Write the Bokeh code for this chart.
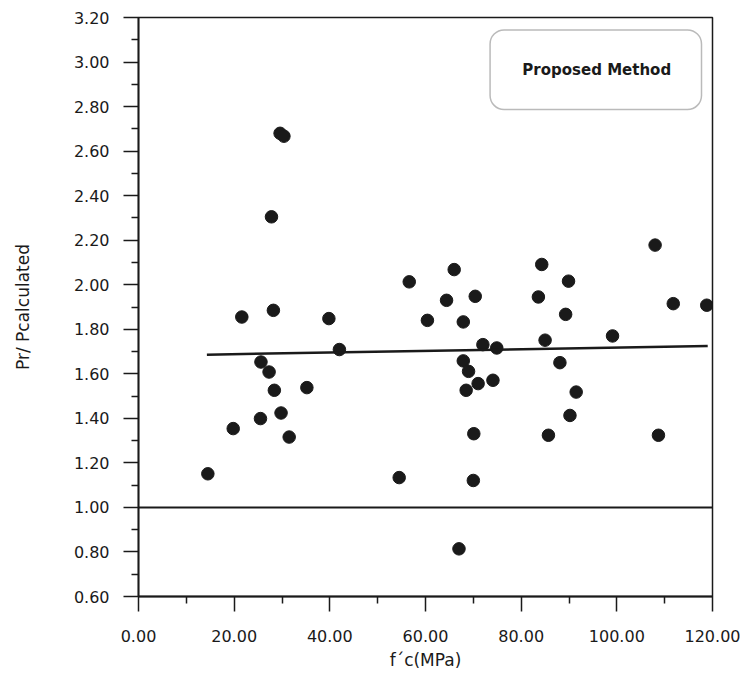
from bokeh.plotting import figure
from bokeh.models import Range1d, FixedTicker, NumeralTickFormatter, Span, BoxAnnotation, Label, ColumnDataSource
from bokeh.embed import file_html
from bokeh.resources import INLINE

# Data
fc = [14.5, 19.8, 21.6, 25.5, 25.6, 27.3, 27.8, 28.2, 28.4, 29.6, 29.8, 30.4, 31.5, 35.2, 39.8,
      42.0, 54.5, 56.6, 60.4, 64.4, 66.0, 67.0, 67.9, 67.9, 68.5, 69.0, 70.0, 70.1, 70.4, 71.0,
      72.0, 74.1, 74.9, 83.6, 84.3, 85.0, 85.7, 88.1, 89.3, 89.9, 90.2, 91.5, 99.1, 108.0, 108.7,
      111.8, 118.8]
ratio = [1.151, 1.354, 1.855, 1.399, 1.653, 1.608, 2.305, 1.885, 1.526, 2.680, 1.424, 2.667, 1.316, 1.538, 1.848,
         1.709, 1.134, 2.013, 1.840, 1.930, 2.068, 0.814, 1.833, 1.658, 1.526, 1.611, 1.121, 1.331, 1.948, 1.556,
         1.731, 1.571, 1.716, 1.945, 2.091, 1.751, 1.324, 1.650, 1.867, 2.016, 1.413, 1.518, 1.770, 2.178, 1.324,
         1.915, 1.908]
fit_x = [14.3, 119.0]
fit_y = [1.686, 1.725]
reference_level = 1.0
x_ticks = [0, 20, 40, 60, 80, 100, 120]
x_minor = [10, 30, 50, 70, 90, 110]
y_ticks = [0.6, 0.8, 1.0, 1.2, 1.4, 1.6, 1.8, 2.0, 2.2, 2.4, 2.6, 2.8, 3.0, 3.2]
y_minor = [0.7, 0.9, 1.1, 1.3, 1.5, 1.7, 1.9, 2.1, 2.3, 2.5, 2.7, 2.9, 3.1]
legend_text = "Proposed Method"

INK = "#1a1a1a"
FONT = "DejaVu Sans"

p = figure(width=746, height=676, output_backend="svg", toolbar_location=None,
           x_range=Range1d(0, 120), y_range=Range1d(0.6, 3.2),
           min_border_left=138, min_border_right=34, min_border_top=17, min_border_bottom=80)
p.grid.visible = False
p.background_fill_color = "white"
p.border_fill_color = "white"
p.outline_line_color = INK
p.outline_line_width = 1.5

p.xaxis.ticker = FixedTicker(ticks=x_ticks, minor_ticks=x_minor)
p.yaxis.ticker = FixedTicker(ticks=y_ticks, minor_ticks=y_minor)
p.xaxis.formatter = NumeralTickFormatter(format="0.00")
p.yaxis.formatter = NumeralTickFormatter(format="0.00")

for ax in (p.xaxis[0], p.yaxis[0]):
    ax.axis_line_color = INK
    ax.axis_line_width = 1.8
    ax.major_tick_line_color = INK
    ax.major_tick_line_width = 1.5
    ax.minor_tick_line_color = INK
    ax.minor_tick_line_width = 1.5
    ax.major_tick_in = 0
    ax.major_tick_out = 15
    ax.minor_tick_in = 0
    ax.minor_tick_out = 7
    ax.major_label_text_font = FONT
    ax.major_label_text_font_size = "16px"
    ax.major_label_text_color = INK
    ax.axis_label_text_font = FONT
    ax.axis_label_text_font_size = "17px"
    ax.axis_label_text_font_style = "normal"
    ax.axis_label_text_color = INK

p.xaxis.major_label_standoff = 18
p.yaxis.major_label_standoff = 14
p.xaxis.axis_label = "f´c(MPa)"
p.yaxis.axis_label = "Pr/ Pcalculated"
p.xaxis.axis_label_standoff = 5
p.yaxis.axis_label_standoff = 38

p.add_layout(Span(location=reference_level, dimension="width", line_color=INK, line_width=2))

src = ColumnDataSource(dict(x=fc, y=ratio))
p.scatter("x", "y", source=src, size=12.5, color=INK)
p.line(fit_x, fit_y, line_color=INK, line_width=2.5)

p.add_layout(BoxAnnotation(left=73.5, right=117.7, bottom=2.787, top=3.144,
                           fill_alpha=0, line_color=INK, line_width=1.5, border_radius=14))
p.add_layout(Label(x=95.8, y=2.964, text=legend_text, text_align="center", text_baseline="middle",
                   text_font=FONT, text_font_style="bold", text_font_size="15px", text_color=INK))

open("out.html", "w").write(file_html(p, INLINE))
